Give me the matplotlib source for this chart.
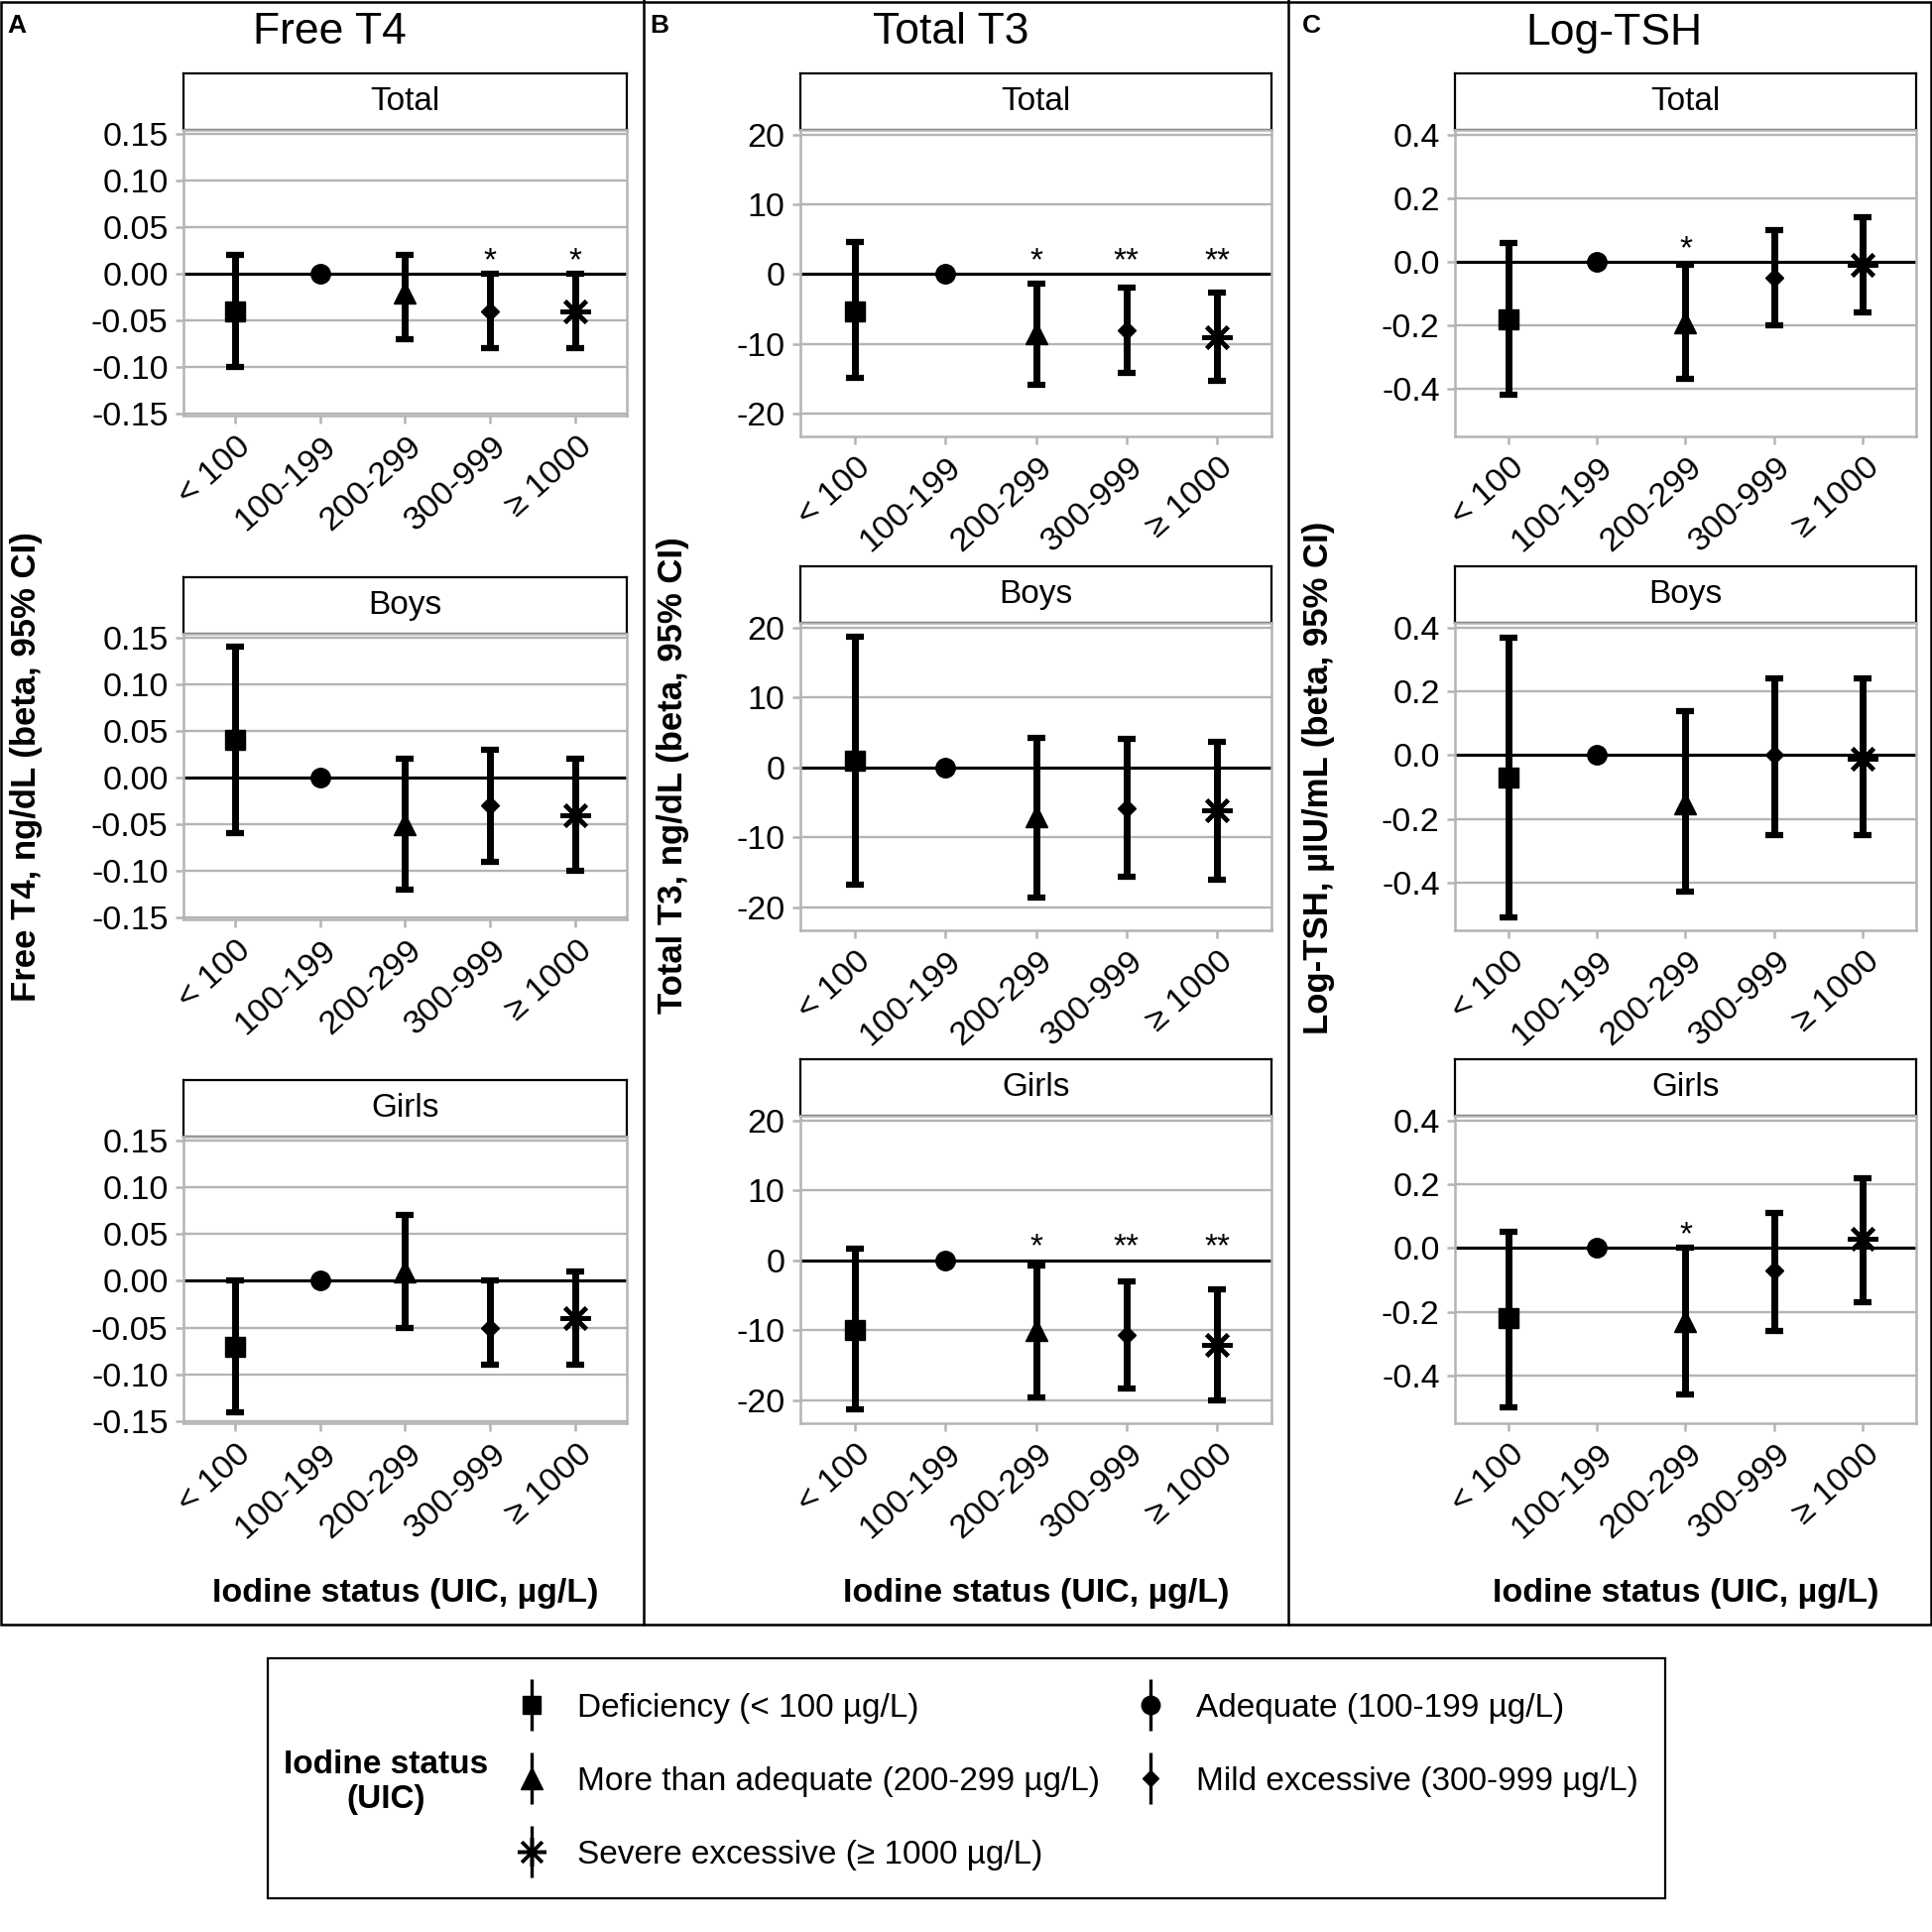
import numpy as np
import matplotlib.pyplot as plt
from matplotlib.lines import Line2D
from matplotlib.patches import Rectangle
from matplotlib.ticker import FormatStrFormatter
from matplotlib.transforms import ScaledTranslation

plt.rcParams['font.family'] = ['Liberation Sans', 'DejaVu Sans']

nan = np.nan
categories = ['< 100', '100-199', '200-299', '300-999', '≥ 1000']
groups = ['Total', 'Boys', 'Girls']

# beta (95% CI) per group: rows = Total, Boys, Girls ; 100-199 is the reference
ft4_est = [[-0.04, 0.0, -0.02, -0.04, -0.04],
           [0.04, 0.0, -0.05, -0.03, -0.04],
           [-0.07, 0.0, 0.01, -0.05, -0.04]]
ft4_lo = [[-0.10, nan, -0.07, -0.08, -0.08],
          [-0.06, nan, -0.12, -0.09, -0.10],
          [-0.14, nan, -0.05, -0.09, -0.09]]
ft4_hi = [[0.02, nan, 0.02, 0.00, 0.00],
          [0.14, nan, 0.02, 0.03, 0.02],
          [0.00, nan, 0.07, 0.00, 0.01]]
ft4_sig = [['', '', '', '*', '*'], ['', '', '', '', ''], ['', '', '', '', '']]

t3_est = [[-5.3, 0.0, -8.5, -8.1, -9.0],
          [1.0, 0.0, -7.0, -5.9, -6.1],
          [-9.9, 0.0, -10.0, -10.6, -12.1]]
t3_lo = [[-14.9, nan, -15.9, -14.2, -15.3],
         [-16.8, nan, -18.6, -15.7, -16.1],
         [-21.3, nan, -19.6, -18.3, -20.0]]
t3_hi = [[4.6, nan, -1.4, -2.0, -2.7],
         [18.7, nan, 4.3, 4.1, 3.7],
         [1.7, nan, -0.8, -3.0, -4.2]]
t3_sig = [['', '', '*', '**', '**'], ['', '', '', '', ''], ['', '', '*', '**', '**']]

tsh_est = [[-0.18, 0.0, -0.19, -0.05, -0.01],
           [-0.07, 0.0, -0.15, 0.00, -0.01],
           [-0.22, 0.0, -0.23, -0.07, 0.03]]
tsh_lo = [[-0.42, nan, -0.37, -0.20, -0.16],
          [-0.51, nan, -0.43, -0.25, -0.25],
          [-0.50, nan, -0.46, -0.26, -0.17]]
tsh_hi = [[0.06, nan, -0.01, 0.10, 0.14],
          [0.37, nan, 0.14, 0.24, 0.24],
          [0.05, nan, 0.00, 0.11, 0.22]]
tsh_sig = [['', '', '*', '', ''], ['', '', '', '', ''], ['', '', '*', '', '']]

legend_labels = ['Deficiency (< 100 µg/L)', 'Adequate (100-199 µg/L)',
                 'More than adequate (200-299 µg/L)', 'Mild excessive (300-999 µg/L)',
                 'Severe excessive (≥ 1000 µg/L)']

markers = ['s', 'o', '^', 'D', (8, 2, 0)]
msizes = [14, 14, 16, 9, 22]
grey = '#b4b4b4'

W, H = 1949, 1948
fig = plt.figure(figsize=(W / 100, H / 100), dpi=100)


def box(l, t, r, b):
    return [l / W, 1 - b / H, (r - l) / W, (b - t) / H]


def draw_panel(ax, est, lo, hi, sig, ylim, yticks, fmt):
    ax.set_xlim(-0.6, 4.6)
    ax.set_ylim(*ylim)
    ax.set_yticks(yticks)
    ax.yaxis.set_major_formatter(FormatStrFormatter(fmt))
    ax.grid(axis='y', color=grey, lw=1.7)
    ax.set_axisbelow(True)
    for s in ax.spines.values():
        s.set_color(grey)
        s.set_linewidth(1.8)
    ax.tick_params(color=grey, width=1.8, length=6, labelsize=24.5, pad=5)
    ax.axhline(0, color='black', lw=2.2, zorder=2)
    for i in range(len(categories)):
        if not np.isnan(lo[i]):
            ax.errorbar(i, est[i], yerr=[[est[i] - lo[i]], [hi[i] - est[i]]], fmt='none',
                        ecolor='black', elinewidth=5, capsize=6.5, capthick=4.5, zorder=3)
        ax.plot(i, est[i], marker=markers[i], ms=msizes[i], color='black',
                mew=3 if i == 4 else 1, zorder=4, ls='none')
        if sig[i]:
            ax.annotate(sig[i], (i, 0), xytext=(0, 3), textcoords='offset points',
                        ha='center', va='baseline', fontsize=24)
    ax.set_xticks(range(len(categories)))
    ax.set_xticklabels(categories, rotation=42, ha='right', va='top', rotation_mode='anchor')
    for lab in ax.get_xticklabels():
        lab.set_transform(lab.get_transform() + ScaledTranslation(1 / 72, 0, fig.dpi_scale_trans))


def strip(l, t, r, b, text):
    sx = fig.add_axes(box(l, t, r, b))
    sx.set_xticks([])
    sx.set_yticks([])
    for s in sx.spines.values():
        s.set_linewidth(1.6)
    sx.text(0.5, 0.5, text, ha='center', va='center', fontsize=24, transform=sx.transAxes)


measures = [
    (ft4_est, ft4_lo, ft4_hi, ft4_sig, (185, 632), [(74, 131, 419), (582, 639, 927), (1089, 1146, 1435)],
     (-0.152, 0.154), [-0.15, -0.10, -0.05, 0.0, 0.05, 0.10, 0.15], '%.2f'),
    (t3_est, t3_lo, t3_hi, t3_sig, (807, 1282), [(74, 131, 440), (571, 628, 938), (1068, 1125, 1435)],
     (-23.3, 20.7), [-20, -10, 0, 10, 20], '%d'),
    (tsh_est, tsh_lo, tsh_hi, tsh_sig, (1467, 1932), [(74, 131, 440), (571, 628, 938), (1068, 1125, 1435)],
     (-0.55, 0.416), [-0.4, -0.2, 0.0, 0.2, 0.4], '%.1f'),
]

for est, lo, hi, sig, (l, r), rows, ylim, yticks, fmt in measures:
    for g, (st, at, ab) in enumerate(rows):
        strip(l, st, r, at, groups[g])
        ax = fig.add_axes(box(l, at, r, ab))
        draw_panel(ax, est[g], lo[g], hi[g], sig[g], ylim, yticks, fmt)
    fig.text(((l + r) / 2) / W, 1 - 1606 / H, 'Iodine status (UIC, µg/L)', ha='center', va='center',
             fontsize=24.5, fontweight='bold')

# panel letters, titles and y labels
for letter, lx, title, tx, ylab, yx, yy in [
        ('A', 17, 'Free T4', 332, 'Free T4, ng/dL (beta, 95% CI)', 27, 773),
        ('B', 665, 'Total T3', 959, 'Total T3, ng/dL (beta, 95% CI)', 679, 782),
        ('C', 1322, 'Log-TSH', 1627, 'Log-TSH, µIU/mL (beta, 95% CI)', 1330, 784)]:
    fig.text(lx / W, 1 - 26 / H, letter, ha='center', va='center', fontsize=19, fontweight='bold')
    fig.text(tx / W, 1 - 33 / H, title, ha='center', va='center', fontsize=32)
    fig.text(yx / W, 1 - yy / H, ylab, ha='center', va='center', rotation=90, fontsize=25,
             fontweight='bold')

# panel frames
fig.add_artist(Rectangle((1 / W, 1 - 1638 / H), 1946 / W, 1636 / H, transform=fig.transFigure,
                         fill=False, lw=1.8, ec='black'))
for x in [649, 1299]:
    fig.add_artist(Line2D([x / W, x / W], [1 - 1638 / H, 1], transform=fig.transFigure,
                          color='black', lw=1.8))

# legend
fig.add_artist(Rectangle((270 / W, 1 - 1914 / H), 1409 / W, 242 / H, transform=fig.transFigure,
                         fill=False, lw=1.6, ec='black'))
fig.text(389 / W, 1 - 1797 / H, 'Iodine status\n(UIC)', ha='center', va='center', fontsize=24,
         fontweight='bold', linespacing=1.2)

handles = []
for i in range(len(categories)):
    bar = Line2D([], [], marker='|', ms=38, mew=2.4, color='black', ls='none')
    mk = Line2D([], [], marker=markers[i], ms=msizes[i] * 0.95, mew=2.5 if i == 4 else 1,
                color='black', ls='none')
    handles.append((bar, mk))

leg_kw = dict(frameon=False, fontsize=24, handlelength=0.96, handletextpad=0.9, borderpad=0,
              borderaxespad=0, labelspacing=1.29, loc='center left')
fig.legend([handles[0], handles[2], handles[4]], [legend_labels[0], legend_labels[2], legend_labels[4]],
           bbox_to_anchor=(520 / W, 1 - 1796 / H), **leg_kw)
fig.legend([handles[1], handles[3]], [legend_labels[1], legend_labels[3]],
           bbox_to_anchor=(1144 / W, 1 - 1759 / H), **leg_kw)

fig.savefig('out.png', dpi=100)
